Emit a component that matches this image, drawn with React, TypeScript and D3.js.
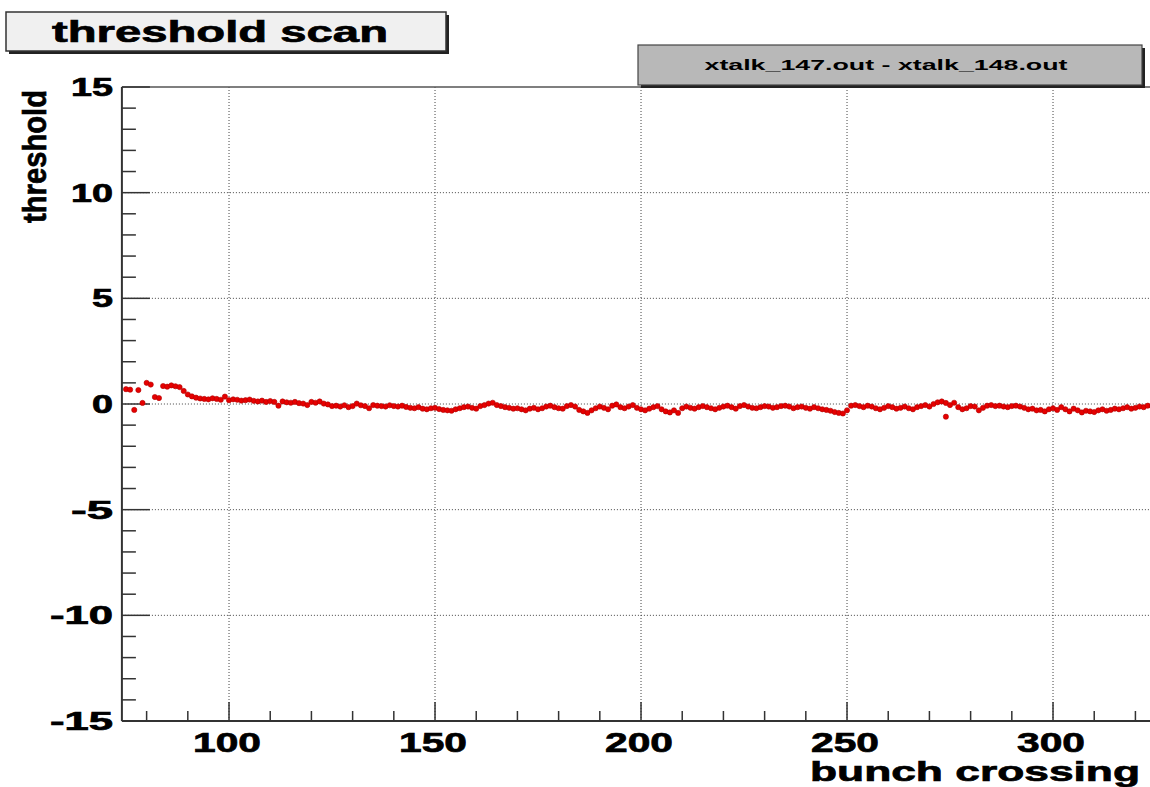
import React from "react";
import * as d3 from "d3";

// bunch crossing bins and the threshold difference measured in each
const firstBunch = 75;
const thresholdDiff: number[] = [
  0.70, 0.68, -0.28, 0.66, 0.05, 1.00, 0.92, 0.33, 0.28, 0.85,
  0.82, 0.88, 0.84, 0.80, 0.62, 0.45, 0.36, 0.30, 0.26, 0.24,
  0.22, 0.27, 0.24, 0.20, 0.35, 0.18, 0.22, 0.20, 0.16, 0.18,
  0.21, 0.15, 0.12, 0.16, 0.10, 0.14, 0.10, -0.08, 0.12, 0.08,
  0.06, 0.10, 0.04, 0.02, -0.05, 0.10, 0.06, 0.12, 0.02, -0.02,
  -0.10, -0.08, -0.12, -0.06, -0.15, -0.10, 0.02, -0.06, -0.10, -0.20,
  -0.05, -0.08, -0.10, -0.12, -0.06, -0.10, -0.12, -0.08, -0.14, -0.18,
  -0.20, -0.15, -0.22, -0.25, -0.20, -0.18, -0.24, -0.28, -0.30, -0.32,
  -0.25, -0.20, -0.15, -0.12, -0.18, -0.22, -0.10, -0.05, 0.02, 0.06,
  -0.05, -0.10, -0.15, -0.18, -0.22, -0.20, -0.25, -0.30, -0.22, -0.18,
  -0.25, -0.20, -0.12, -0.08, -0.15, -0.20, -0.22, -0.10, -0.05, -0.12,
  -0.28, -0.35, -0.42, -0.30, -0.20, -0.12, -0.18, -0.25, -0.08, -0.02,
  -0.15, -0.20, -0.12, -0.05, -0.18, -0.25, -0.30, -0.22, -0.15, -0.10,
  -0.25, -0.35, -0.40, -0.30, -0.42, -0.20, -0.12, -0.18, -0.22, -0.15,
  -0.10, -0.15, -0.20, -0.25, -0.18, -0.12, -0.08, -0.15, -0.22, -0.10,
  -0.05, -0.12, -0.18, -0.20, -0.15, -0.10, -0.12, -0.18, -0.15, -0.10,
  -0.08, -0.12, -0.20, -0.15, -0.12, -0.18, -0.22, -0.15, -0.20, -0.25,
  -0.28, -0.32, -0.38, -0.42, -0.45, -0.30, -0.08, -0.05, -0.10, -0.15,
  -0.08, -0.12, -0.20, -0.25, -0.18, -0.10, -0.15, -0.22, -0.18, -0.12,
  -0.20, -0.25, -0.15, -0.10, -0.05, -0.12, 0.00, 0.08, 0.12, 0.05,
  -0.05, 0.06, -0.15, -0.25, -0.20, -0.10, -0.12, -0.30, -0.18, -0.08,
  -0.05, -0.10, -0.08, -0.12, -0.15, -0.10, -0.08, -0.12, -0.18, -0.25,
  -0.22, -0.30, -0.28, -0.35, -0.25, -0.20, -0.28, -0.15, -0.25, -0.35,
  -0.22, -0.30, -0.40, -0.32, -0.35, -0.38, -0.30, -0.25, -0.32, -0.28,
  -0.22, -0.25, -0.20, -0.15, -0.22, -0.18, -0.12, -0.15, -0.08, -0.10,
];
// isolated second entries within a bin
const extraBunch: number[] = [274];
const extraDiff: number[] = [-0.6];

const xTicks: number[] = [100, 150, 200, 250, 300];
const yTicks: number[] = [-15, -10, -5, 0, 5, 10, 15];

const title = "threshold scan";
const legendText = "xtalk_147.out - xtalk_148.out";
const xTitle = "bunch crossing";
const yTitle = "threshold";

const FONT = "'Liberation Sans', Arial, Helvetica, sans-serif";

export default function App() {
  const W = 1150;
  const H = 787;
  const left = 121.9;
  const top = 87;
  const bottom = 721;
  const xDomain: [number, number] = [74, 330];
  const x = d3.scaleLinear().domain(xDomain).range([left, left + 256 * 4.12]);
  const y = d3.scaleLinear().domain([-15, 15]).range([bottom, top]);
  const right = x(xDomain[1]);

  const points = thresholdDiff.map((v, i) => ({ bx: firstBunch + i, v }));
  extraBunch.forEach((b, i) => points.push({ bx: b, v: extraDiff[i] }));

  const xMinor = d3.range(80, 331, 10).filter((t) => !xTicks.includes(t));
  const yMinor = d3.range(-15, 16, 1).filter((t) => !yTicks.includes(t));
  const gridY = yTicks.filter((t) => t !== -15 && t !== 15);

  const heavy = { stroke: "#000", strokeWidth: 0.7 };

  return (
    <svg
      width={W}
      height={H}
      style={{ position: "absolute", left: 0, top: 0, background: "#fff" }}
      fontFamily={FONT}
    >
      <rect x={0} y={0} width={W} height={H} fill="#fff" />

      {/* grid */}
      {xTicks.map((t) => (
        <line key={"gx" + t} x1={x(t)} x2={x(t)} y1={top} y2={bottom}
          stroke="#444" strokeWidth={1} strokeDasharray="1,2" />
      ))}
      {gridY.map((t) => (
        <line key={"gy" + t} x1={left} x2={right} y1={y(t)} y2={y(t)}
          stroke="#444" strokeWidth={1} strokeDasharray="1,2" />
      ))}

      {/* frame */}
      <line x1={left} x2={right} y1={top} y2={top} stroke="#555" strokeWidth={1.5} />
      <line x1={left} x2={left} y1={top} y2={bottom} stroke="#333" strokeWidth={2} />
      <line x1={left} x2={right} y1={bottom} y2={bottom} stroke="#333" strokeWidth={2} />

      {/* x ticks */}
      {xTicks.map((t) => (
        <line key={"xt" + t} x1={x(t)} x2={x(t)} y1={bottom} y2={bottom - 19} stroke="#333" strokeWidth={1.5} />
      ))}
      {xMinor.map((t) => (
        <line key={"xm" + t} x1={x(t)} x2={x(t)} y1={bottom} y2={bottom - 10} stroke="#333" strokeWidth={1.5} />
      ))}
      {/* y ticks */}
      {yTicks.map((t) => (
        <line key={"yt" + t} x1={left} x2={left + 28} y1={y(t)} y2={y(t)} stroke="#333" strokeWidth={1.5} />
      ))}
      {yMinor.map((t) => (
        <line key={"ym" + t} x1={left} x2={left + 14} y1={y(t)} y2={y(t)} stroke="#333" strokeWidth={1.5} />
      ))}

      {/* tick labels */}
      {xTicks.map((t) => (
        <text key={"xl" + t} x={x(t) - 2} y={752} textAnchor="middle" fontSize={28} fontWeight="bold"
          textLength={68} lengthAdjust="spacingAndGlyphs" fill="#000" {...heavy}>
          {t}
        </text>
      ))}
      {yTicks.map((t) => {
        const s = String(t);
        return (
          <text key={"yl" + t} x={113} y={y(t) + 9} textAnchor="end" fontSize={25} fontWeight="bold"
            textLength={s.length * 21} lengthAdjust="spacingAndGlyphs" fill="#000" {...heavy}>
            {s}
          </text>
        );
      })}

      {/* axis titles */}
      <text x={1140} y={781} textAnchor="end" fontSize={28} fontWeight="bold"
        textLength={330} lengthAdjust="spacingAndGlyphs" fill="#000" {...heavy}>
        {xTitle}
      </text>
      <text transform="translate(46,223) rotate(-90)" x={0} y={0} fontSize={34} fontWeight="bold"
        textLength={133} lengthAdjust="spacingAndGlyphs" fill="#000" {...heavy}>
        {yTitle}
      </text>

      {/* markers */}
      {points.map((p, i) => (
        <circle key={"p" + i} cx={x(p.bx)} cy={y(p.v)} r={2.6} fill="#e60000" stroke="#b00000" strokeWidth={0.6} />
      ))}

      {/* title box */}
      <rect x={9} y={15} width={440} height={39} fill="#222" />
      <rect x={6} y={12} width={440} height={39} fill="#f0f0f0" stroke="#333" strokeWidth={1.5} />
      <text x={220} y={42} textAnchor="middle" fontSize={30} fontWeight="bold"
        textLength={336} lengthAdjust="spacingAndGlyphs" fill="#000" {...heavy}>
        {title}
      </text>

      {/* legend box */}
      <rect x={641} y={48} width={504} height={40} fill="#222" />
      <rect x={638} y={45} width={504} height={40} fill="#b8b8b8" stroke="#444" strokeWidth={1.2} />
      <text x={886} y={70} textAnchor="middle" fontSize={15} fontWeight="bold"
        textLength={363} lengthAdjust="spacingAndGlyphs" fill="#000">
        {legendText}
      </text>
    </svg>
  );
}
